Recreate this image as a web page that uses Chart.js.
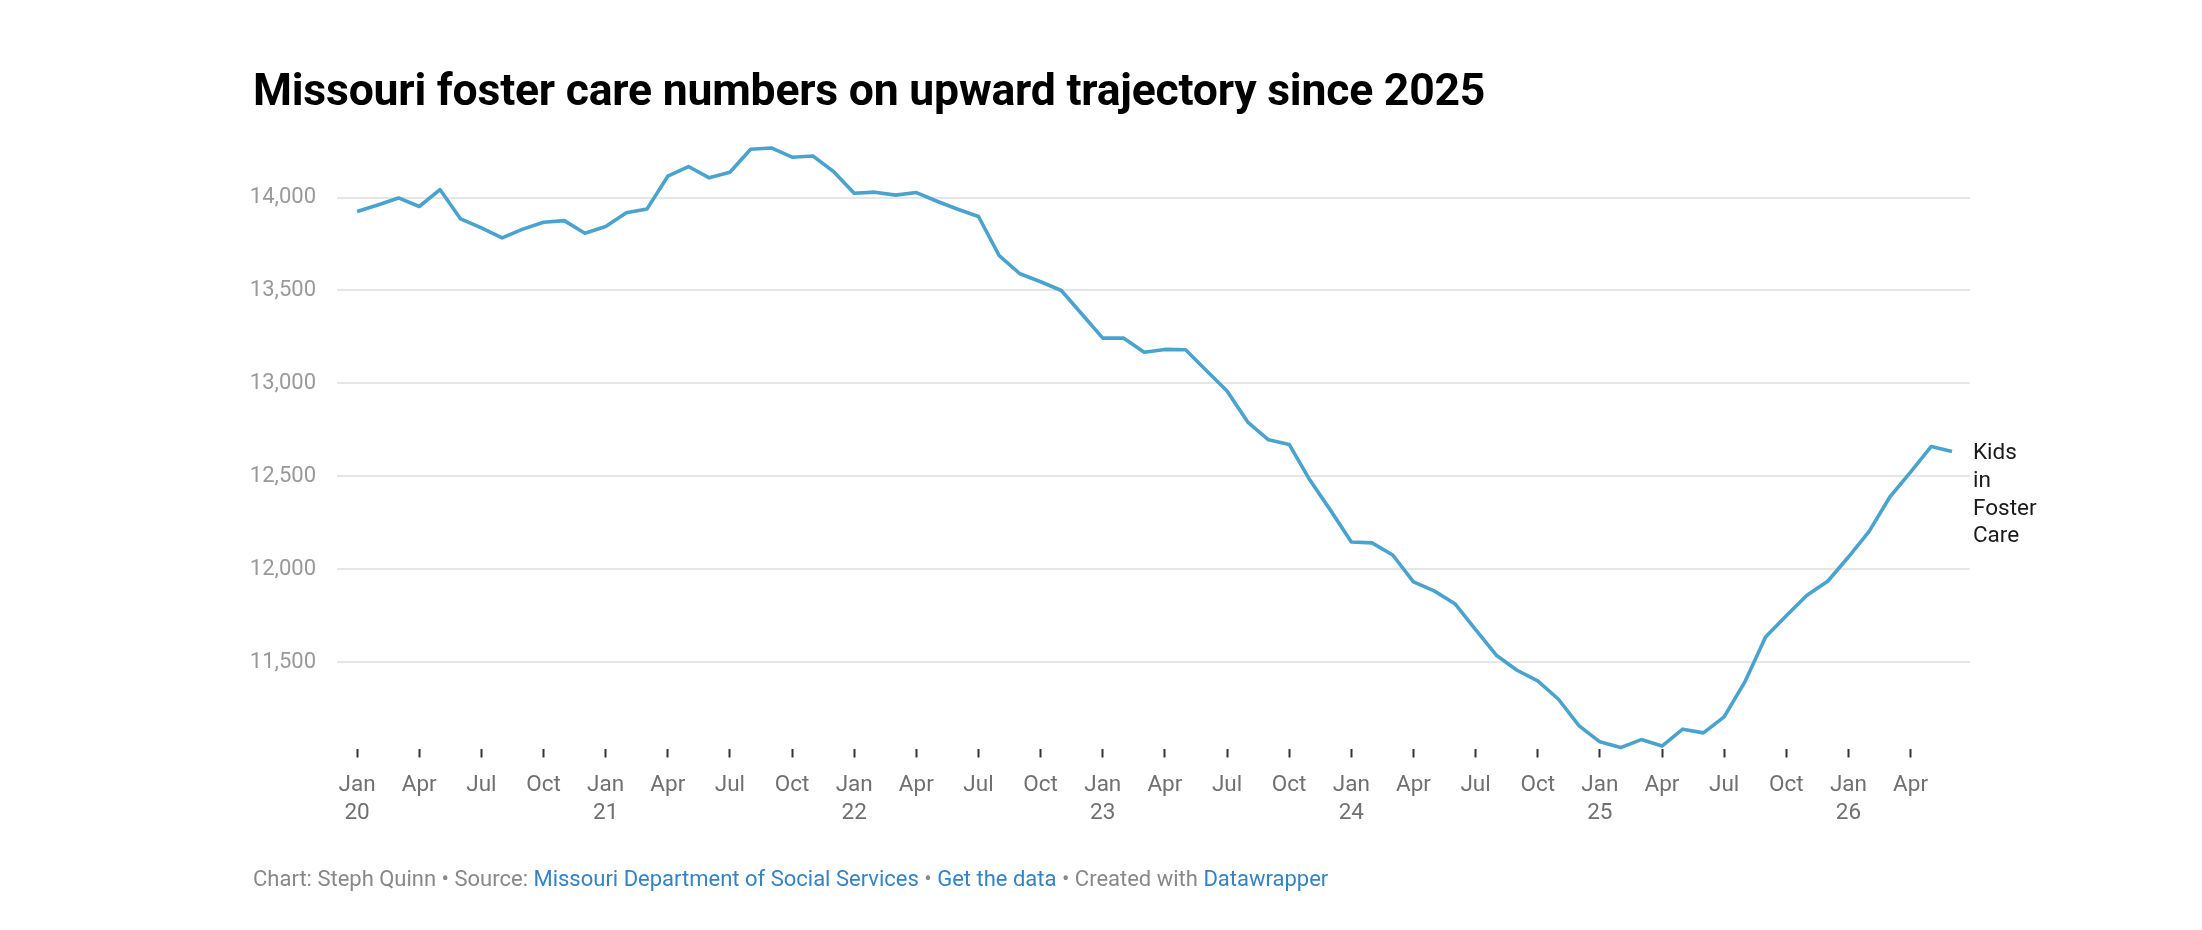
<!DOCTYPE html>
<html>
<head>
<meta charset="utf-8">
<script src="https://cdn.jsdelivr.net/npm/chart.js@4.4.1/dist/chart.umd.min.js"></script>
<style>
  html, body { margin: 0; padding: 0; background: #fff; }
  body { width: 2202px; height: 930px; position: relative; overflow: hidden; font-family: Roboto, sans-serif; }
  #wrap { position: absolute; left: 0; top: 0; width: 2202px; height: 930px; }
  h1 { position: absolute; left: 253px; top: 64px; margin: 0; font-size: 44.5px; font-weight: 700; color: #000; line-height: 52px; letter-spacing: -0.2px; }
  .footer { position: absolute; left: 253px; top: 865px; font-size: 22px; color: #888; line-height: 28px; white-space: nowrap; }
  .footer a { color: #3383c7; text-decoration: none; }
</style>
</head>
<body>
<div id="wrap"><canvas id="fosterChart"></canvas></div>
<h1>Missouri foster care numbers on upward trajectory since 2025</h1>
<div class="footer">Chart: Steph Quinn • Source: <a>Missouri Department of Social Services</a> • <a>Get the data</a> • Created with <a>Datawrapper</a></div>
<script>
// months, Jan 2020 - Jun 2026
var months = [
  '2020-01','2020-02','2020-03','2020-04','2020-05','2020-06','2020-07','2020-08','2020-09','2020-10','2020-11','2020-12',
  '2021-01','2021-02','2021-03','2021-04','2021-05','2021-06','2021-07','2021-08','2021-09','2021-10','2021-11','2021-12',
  '2022-01','2022-02','2022-03','2022-04','2022-05','2022-06','2022-07','2022-08','2022-09','2022-10','2022-11','2022-12',
  '2023-01','2023-02','2023-03','2023-04','2023-05','2023-06','2023-07','2023-08','2023-09','2023-10','2023-11','2023-12',
  '2024-01','2024-02','2024-03','2024-04','2024-05','2024-06','2024-07','2024-08','2024-09','2024-10','2024-11','2024-12',
  '2025-01','2025-02','2025-03','2025-04','2025-05','2025-06','2025-07','2025-08','2025-09','2025-10','2025-11','2025-12',
  '2026-01','2026-02','2026-03','2026-04','2026-05','2026-06'
];

var kidsInFosterCare = [
  13925, 13960, 13998, 13952, 14043, 13885, 13837, 13783, 13830, 13867, 13876, 13808,
  13844, 13918, 13939, 14115, 14167, 14106, 14136, 14260, 14267, 14217, 14224, 14140,
  14023, 14029, 14013, 14027, 13980, 13937, 13898, 13688, 13590, 13547, 13500, 13372,
  13244, 13244, 13168, 13183, 13181, 13070, 12959, 12792, 12697, 12672, 12480, 12317,
  12147, 12142, 12077, 11932, 11884, 11815, 11676, 11538, 11457, 11400, 11301, 11158,
  11072, 11041, 11084, 11049, 11140, 11120, 11206, 11394, 11636, 11750, 11860, 11936,
  12066, 12204, 12389, 12523, 12661, 12634
];

var seriesLabel = ['Kids', 'in', 'Foster', 'Care'];

// x ticks every quarter (month index) and their labels
var xTickIndex = [0, 3, 6, 9, 12, 15, 18, 21, 24, 27, 30, 33, 36, 39, 42, 45, 48, 51, 54, 57, 60, 63, 66, 69, 72, 75];
var xTickLabels = [
  ['Jan', '20'], 'Apr', 'Jul', 'Oct',
  ['Jan', '21'], 'Apr', 'Jul', 'Oct',
  ['Jan', '22'], 'Apr', 'Jul', 'Oct',
  ['Jan', '23'], 'Apr', 'Jul', 'Oct',
  ['Jan', '24'], 'Apr', 'Jul', 'Oct',
  ['Jan', '25'], 'Apr', 'Jul', 'Oct',
  ['Jan', '26'], 'Apr'
];
var yTicks = [11500, 12000, 12500, 13000, 13500, 14000];

// label at the end of the line
var endLabel = {
  id: 'endLabel',
  afterDatasetsDraw: function (chart) {
    var pts = chart.getDatasetMeta(0).data;
    var last = pts[pts.length - 1];
    var ctx = chart.ctx;
    ctx.save();
    ctx.font = '22.5px Roboto';
    ctx.fillStyle = '#1a1a1a';
    ctx.textBaseline = 'middle';
    ctx.textAlign = 'left';
    for (var i = 0; i < seriesLabel.length; i++) {
      ctx.fillText(seriesLabel[i], last.x + 21, last.y + 2 + i * 27.8);
    }
    ctx.restore();
  }
};

var ctx = document.getElementById('fosterChart').getContext('2d');
var fosterChart = new Chart(ctx, {
  type: 'line',
  data: {
    datasets: [{
      label: 'Kids in Foster Care',
      data: kidsInFosterCare.map(function (v, i) { return { x: i, y: v }; }),
      borderColor: '#4aa3cf',
      borderWidth: 3.6,
      pointRadius: 0,
      tension: 0,
      borderJoinStyle: 'round',
      clip: false
    }]
  },
  options: {
    responsive: true,
    maintainAspectRatio: false,
    animation: false,
    layout: { padding: { top: 147, right: 232, bottom: 70, left: 0 } },
    plugins: {
      legend: { display: false },
      tooltip: { enabled: false }
    },
    scales: {
      x: {
        type: 'linear',
        min: -0.97,
        max: 77.87,
        afterBuildTicks: function (scale) {
          scale.ticks = xTickIndex.map(function (v) { return { value: v }; });
        },
        afterFit: function (scale) { scale.height = 111.5; },
        grid: {
          drawOnChartArea: false,
          drawTicks: true,
          tickLength: 9,
          tickWidth: 2,
          tickColor: '#333'
        },
        border: { display: false },
        ticks: {
          autoSkip: false,
          maxRotation: 0,
          padding: 14,
          color: '#707070',
          font: { family: 'Roboto', size: 22.5, lineHeight: 1.25 },
          callback: function (value, index) { return xTickLabels[index]; }
        }
      },
      y: {
        min: 11036,
        max: 14272,
        afterBuildTicks: function (scale) {
          scale.ticks = yTicks.map(function (v) { return { value: v }; });
        },
        afterFit: function (scale) { scale.width = 337; },
        grid: {
          drawTicks: false,
          color: '#e6e6e6',
          lineWidth: 2
        },
        border: { display: false },
        ticks: {
          padding: 21,
          color: '#999',
          font: { family: 'Roboto', size: 22 },
          callback: function (value) { return value.toLocaleString('en-US'); }
        }
      }
    }
  },
  plugins: [endLabel]
});
</script>
</body>
</html>
